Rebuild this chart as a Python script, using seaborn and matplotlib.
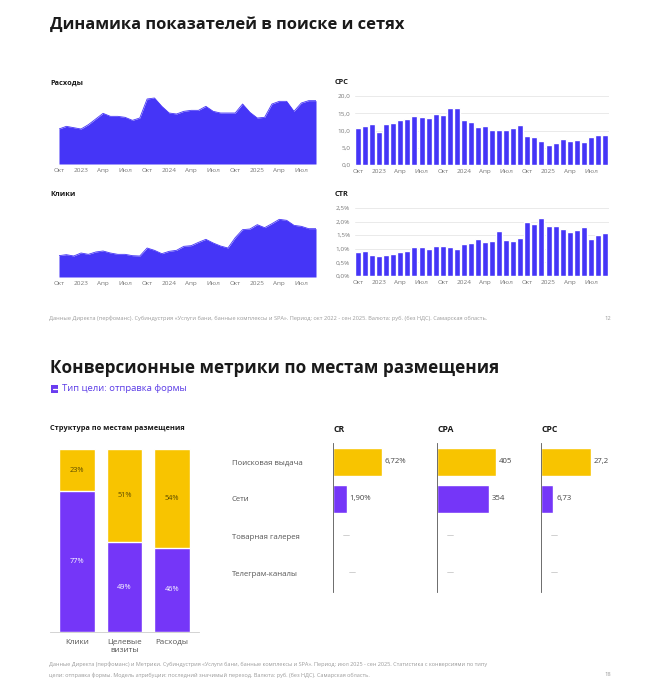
import numpy as np
import pandas as pd
import matplotlib.pyplot as plt
import seaborn as sns
from matplotlib.patches import Rectangle

# ---- data ----
tick_pos = list(range(0, 36, 3))
tick_labels = ['Окт', '2023', 'Апр', 'Июл', 'Окт', '2024', 'Апр', 'Июл', 'Окт', '2025', 'Апр', 'Июл']

# spend and clicks have no y axis on the slide -> relative values
spend = [105, 113, 109, 105, 118, 135, 152, 143, 143, 140, 131, 138, 195, 198, 173, 153, 150, 158,
         161, 161, 173, 158, 153, 153, 153, 180, 155, 138, 140, 180, 188, 188, 158, 183, 190, 190]
clicks = [64, 67, 63, 72, 68, 75, 78, 72, 68, 68, 64, 63, 87, 80, 70, 77, 80, 92,
          94, 104, 113, 102, 93, 87, 118, 142, 144, 157, 148, 160, 173, 170, 155, 152, 145, 145]
cpc = [10.8, 11.3, 11.8, 9.7, 12.0, 12.2, 12.9, 13.4, 14.3, 14.0, 13.6, 14.8, 14.6, 16.6, 16.6, 13.0,
       12.6, 11.1, 11.4, 10.1, 10.1, 10.1, 10.6, 11.6, 8.5, 8.2, 7.1, 5.7, 6.3, 7.6, 7.1, 7.3, 6.7,
       8.0, 8.7, 8.7]
ctr = [0.87, 0.93, 0.77, 0.73, 0.76, 0.80, 0.87, 0.93, 1.06, 1.07, 1.01, 1.11, 1.11, 1.06, 1.00, 1.19,
       1.22, 1.35, 1.24, 1.30, 1.66, 1.33, 1.27, 1.39, 1.98, 1.91, 2.12, 1.82, 1.84, 1.74, 1.63, 1.68,
       1.80, 1.37, 1.52, 1.57]

struct_cats = ['Клики', 'Целевые\nвизиты', 'Расходы']
search_share = [23, 51, 54]
networks_share = [77, 49, 46]

places = ['Поисковая выдача', 'Сети', 'Товарная галерея', 'Телеграм-каналы']
cr_vals = [6.72, 1.90, np.nan, np.nan]
cpa_vals = [405, 354, np.nan, np.nan]
cpc_place = [27.2, 6.73, np.nan, np.nan]

# ---- style ----
sns.set_style('white')
plt.rcParams['font.family'] = ['Open Sans', 'DejaVu Sans']

BLUE = '#4535F7'
PURPLE = '#7536F8'
YELLOW = '#F8C400'
DARK = '#1a1a1a'
GREY = '#777777'
NOTE = '#9a9a9a'

W, H = 666, 698
fig = plt.figure(figsize=(W / 100, H / 100), dpi=100)


def add_ax(x0, y0, x1, y1):
    ax = fig.add_axes([x0 / W, 1 - y1 / H, (x1 - x0) / W, (y1 - y0) / H])
    for s in ax.spines.values():
        s.set_visible(False)
    return ax


def ftext(x, y, s, **kw):
    return fig.text(x / W, 1 - y / H, s, **kw)


def area_chart(ax, values, top):
    x = np.arange(len(values))
    sns.lineplot(x=x, y=values, ax=ax, color=BLUE, lw=0.6)
    ax.fill_between(x, values, color=BLUE, lw=0)
    ax.set_xlim(0, 35)
    ax.set_ylim(0, top)
    ax.set_yticks([])
    ax.set_xticks(tick_pos)
    ax.set_xticklabels(tick_labels, fontsize=4.6, color=GREY)
    ax.tick_params(axis='x', length=0, pad=3)


def bar_chart(ax, values, ymax, yticks, ylabels):
    df = pd.DataFrame({'m': np.arange(len(values)), 'v': values})
    sns.barplot(data=df, x='m', y='v', ax=ax, color=BLUE, width=0.85, saturation=1)
    ax.set_xlim(-0.5, 35.5)
    ax.set_ylim(0, ymax)
    ax.set_yticks(yticks)
    ax.set_yticklabels(ylabels, fontsize=4.6, color=GREY)
    ax.set_xticks(tick_pos)
    ax.set_xticklabels(tick_labels, fontsize=4.6, color=GREY)
    ax.tick_params(length=0, pad=3)
    ax.set_xlabel('')
    ax.set_ylabel('')
    ax.grid(axis='y', color='#e6e6e6', lw=0.6)
    ax.set_axisbelow(True)


# ---- slide 1 ----
ftext(50, 25, 'Динамика показателей в поиске и сетях', fontsize=11.85, fontweight='bold', color=DARK, va='center')

ftext(50, 83, 'Расходы', fontsize=5.3, fontweight='bold', color=DARK, va='center')
ax = add_ax(59, 97, 316, 164)
area_chart(ax, spend, 201)

ftext(50, 195, 'Клики', fontsize=5.3, fontweight='bold', color=DARK, va='center')
ax = add_ax(59, 215, 316, 277)
area_chart(ax, clicks, 186)

ftext(335, 82, 'CPC', fontsize=5.3, fontweight='bold', color=DARK, va='center')
ax = add_ax(354.5, 96, 608.5, 165)
bar_chart(ax, cpc, 20, [0, 5, 10, 15, 20], ['0,0', '5,0', '10,0', '15,0', '20,0'])

ftext(335, 194, 'CTR', fontsize=5.3, fontweight='bold', color=DARK, va='center')
ax = add_ax(354.5, 208, 608.5, 276)
bar_chart(ax, ctr, 2.5, [0, 0.5, 1, 1.5, 2, 2.5], ['0,0%', '0,5%', '1,0%', '1,5%', '2,0%', '2,5%'])

ftext(49, 318, 'Данные Директа (перфоманс). Субиндустрия «Услуги бани, банные комплексы и SPA». '
      'Период: окт 2022 - сен 2025. Валюта: руб. (без НДС). Самарская область.',
      fontsize=4.1, color=NOTE, va='center')
ftext(611, 318, '12', fontsize=4.2, color=NOTE, va='center', ha='right')

# ---- slide 2 ----
ftext(50, 368, 'Конверсионные метрики по местам размещения', fontsize=12.3, fontweight='bold',
      color=DARK, va='center')
fig.add_artist(Rectangle((50.5 / W, 1 - 393 / H), 8 / W, 8.5 / H, transform=fig.transFigure,
                         fc='#6A3CF0', ec='none'))
fig.add_artist(plt.Line2D([52.5 / W, 56.5 / W], [1 - 388.5 / H, 1 - 388.5 / H], color='white', lw=0.9,
                          transform=fig.transFigure))
ftext(62, 388.5, 'Тип цели: отправка формы', fontsize=6.8, color='#5b3ce6', va='center')

ftext(50, 429, 'Структура по местам размещения', fontsize=5.3, fontweight='bold', color=DARK, va='center')
ax = add_ax(50, 449, 199, 632)
sdf = pd.DataFrame({'cat': struct_cats, 'search': search_share, 'net': networks_share})
sdf['total'] = sdf['search'] + sdf['net']
sns.barplot(data=sdf, x='cat', y='total', ax=ax, color=YELLOW, width=0.76, saturation=1)
sns.barplot(data=sdf, x='cat', y='net', ax=ax, color=PURPLE, width=0.76, saturation=1)
for i, (s, n) in enumerate(zip(search_share, networks_share)):
    ax.text(i, n + s / 2, f'{s}%', ha='center', va='center', fontsize=5.3, color='#5a4a00')
    ax.text(i, n / 2, f'{n}%', ha='center', va='center', fontsize=5.3, color='white')
ax.set_ylim(0, 100)
ax.set_xlim(-0.58, 2.58)
ax.set_yticks([])
ax.set_xlabel('')
ax.set_ylabel('')
ax.spines['bottom'].set_visible(True)
ax.spines['bottom'].set_color('#cccccc')
ax.spines['bottom'].set_linewidth(0.6)
ax.tick_params(axis='x', length=0, pad=5)
ax.set_xticks(range(3))
ax.set_xticklabels(struct_cats, fontsize=5.8, color='#555555', linespacing=1.3, va='top')

hb_colors = [YELLOW, PURPLE, PURPLE, PURPLE]
panels = [('CR', 333, cr_vals, 12.6, lambda v: f'{v:.2f}%'.replace('.', ',')),
          ('CPA', 437, cpa_vals, 630, lambda v: f'{v:.0f}'),
          ('CPC', 541, cpc_place, 50, lambda v: f'{v:.2f}'.rstrip('0').replace('.', ','))]
dash_off = [[0, 0, 4, 8], [0, 0, 4, 4], [0, 0, 4, 4]]
for k, (name, x0, vals, xmax, fmt) in enumerate(panels):
    ftext(x0, 429, name, fontsize=6.2, fontweight='bold', color=DARK, va='center')
    ax = add_ax(x0, 443, x0 + 92, 592)
    hdf = pd.DataFrame({'place': places, 'v': vals})
    sns.barplot(data=hdf, y='place', x='v', hue='place', palette=hb_colors, legend=False,
                orient='h', ax=ax, width=0.76, saturation=1)
    ax.set_xlim(0, xmax)
    ax.set_ylim(3.51, -0.51)
    ax.spines['left'].set_visible(True)
    ax.spines['left'].set_color('#555555')
    ax.spines['left'].set_linewidth(0.6)
    ax.set_xticks([])
    ax.set_xlabel('')
    ax.set_ylabel('')
    if k == 0:
        ax.set_yticks(range(4))
        ax.set_yticklabels(places, fontsize=5.6, color='#555555')
        ax.tick_params(axis='y', length=0, pad=0)
        for lbl in ax.get_yticklabels():
            lbl.set_ha('left')
            lbl.set_x(-101 / 92)
    else:
        ax.set_yticks([])
    for i, v in enumerate(vals):
        if np.isnan(v):
            ax.annotate('—', (0, i), xytext=(dash_off[k][i] + 3, 0), textcoords='offset points',
                        fontsize=5, color='#aaaaaa', va='center')
        else:
            ax.annotate(fmt(v), (v, i), xytext=(2, 0), textcoords='offset points',
                        fontsize=5.6, color='#444444', va='center')

ftext(49, 664, 'Данные Директа (перфоманс) и Метрики. Субиндустрия «Услуги бани, банные комплексы и SPA». '
      'Период: июл 2025 - сен 2025. Статистика с конверсиями по типу', fontsize=4.0, color=NOTE, va='center')
ftext(49, 675, 'цели: отправка формы. Модель атрибуции: последний значимый переход. Валюта: руб. (без НДС). '
      'Самарская область.', fontsize=4.0, color=NOTE, va='center')
ftext(611, 675, '18', fontsize=4.2, color=NOTE, va='center', ha='right')

fig.savefig('out.png', dpi=100, facecolor='white')
